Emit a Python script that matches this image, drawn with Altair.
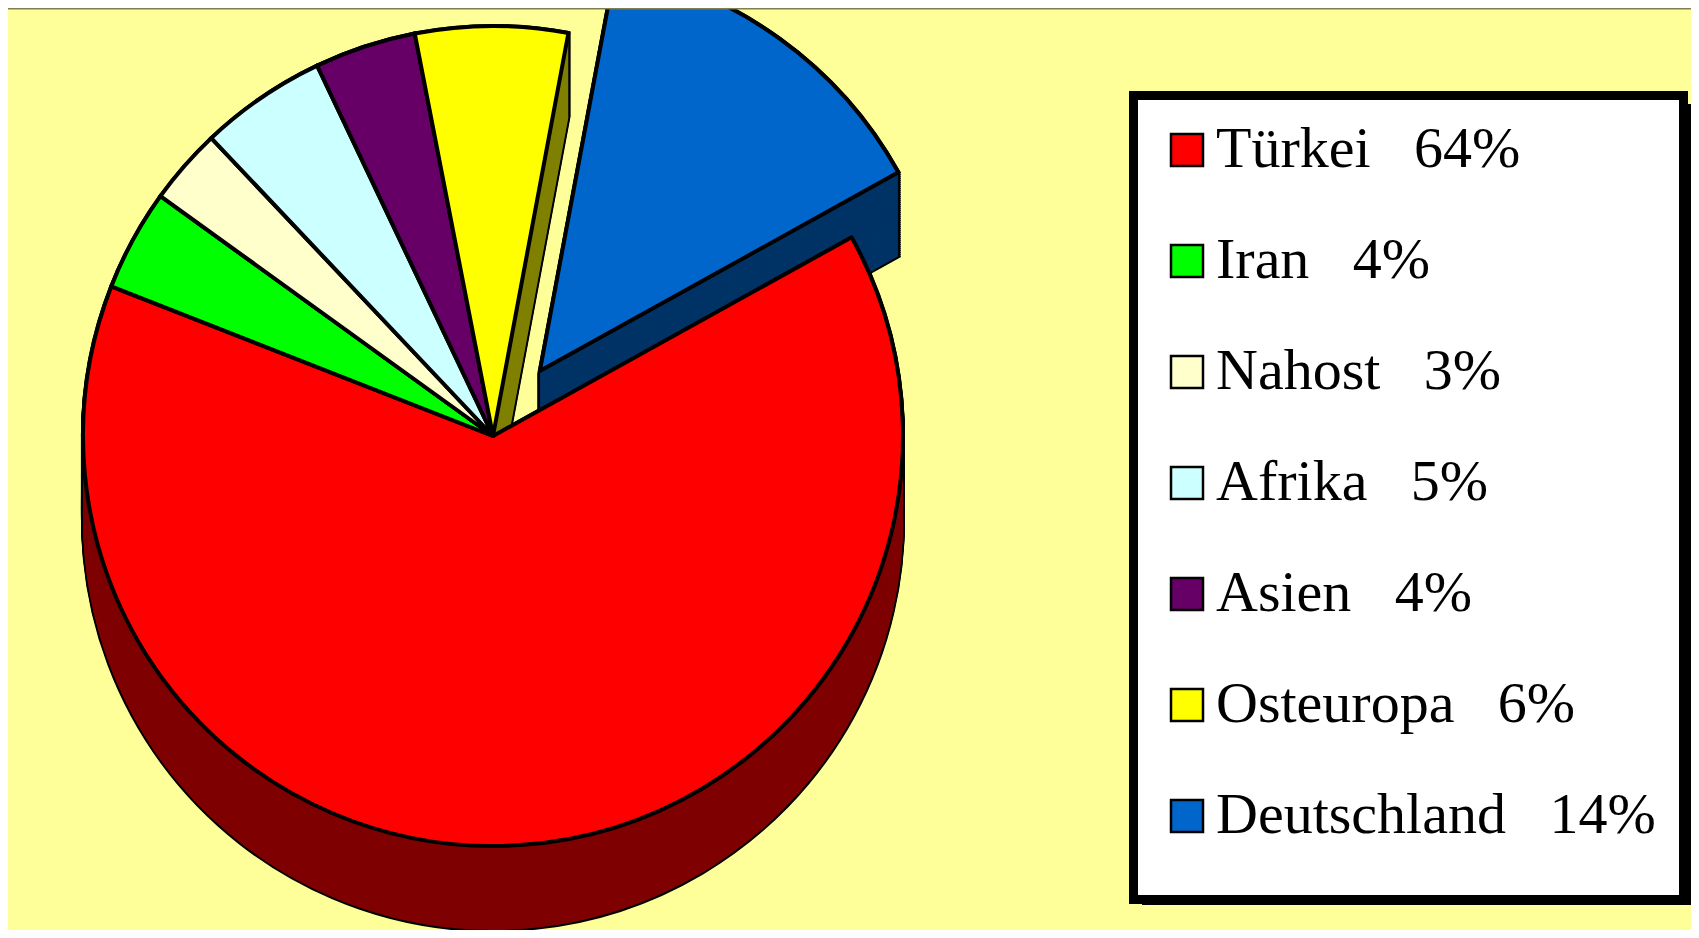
import math
import altair as alt
import pandas as pd

# ---- data ----
laender = ["Türkei", "Iran", "Nahost", "Afrika", "Asien", "Osteuropa", "Deutschland"]
anteile = [64, 4, 3, 5, 4, 6, 14]
herausgezogen = ["Deutschland"]

# ---- styles ----
farben = ["#FF0000", "#00FF00", "#FFFFCC", "#CCFFFF", "#660066", "#FFFF00", "#0066CC"]
seitenfarben = ["#7F0000", "#008000", "#80805F", "#608080", "#330033", "#808000", "#003366"]

NBSP = "\u00a0"
labels = [f"{l}{NBSP * 3}{a}%" for l, a in zip(laender, anteile)]

df = pd.DataFrame({
    "Land": laender,
    "Anteil": anteile,
    "Label": labels,
    "Reihenfolge": list(range(len(laender))),
})

W, H = 1683, 922
CX, CY, R, DEPTH, EXPLODE = 485, 428, 410, 84, 80
A0 = math.radians(61)
TOTAL = sum(anteile)

theta = alt.Theta("start:Q", stack=None,
                  scale=alt.Scale(domain=[0, TOTAL], range=[A0, A0 + 2 * math.pi]))
theta2 = alt.Theta2("end:Q")
xpos = alt.X("px:Q", scale=None, axis=None)
fill_dark = alt.Fill("Land:N", scale=alt.Scale(domain=laender, range=seitenfarben), legend=None)

sweep = (
    alt.Chart()
    .transform_calculate(k=f"sequence({DEPTH}, -1, -2)")
    .transform_flatten(["k"])
    .transform_calculate(pyk="datum.py + datum.k")
)
sweep_stroke = sweep.mark_arc(radius=R, stroke="black", strokeWidth=4).encode(
    theta=theta, theta2=theta2, x=xpos,
    y=alt.Y("pyk:Q", scale=None, axis=None), fill=fill_dark,
)
sweep_fill = sweep.mark_arc(radius=R, strokeWidth=0).encode(
    theta=theta, theta2=theta2, x=xpos,
    y=alt.Y("pyk:Q", scale=None, axis=None), fill=fill_dark,
)

tops = alt.Chart().mark_arc(radius=R, stroke="black", strokeWidth=4, strokeJoin="round").encode(
    theta=theta, theta2=theta2, x=xpos,
    y=alt.Y("py:Q", scale=None, axis=None),
    order=alt.Order("Reihenfolge:Q"),
    color=alt.Color(
        "Label:N",
        scale=alt.Scale(domain=labels, range=farben),
        legend=alt.Legend(
            title=None, orient="none", legendX=1150, legendY=113, zindex=1,
            direction="vertical", padding=0,
            symbolType="square", symbolSize=1024, symbolStrokeColor="black",
            symbolStrokeWidth=2.5, symbolOpacity=1,
            labelFont="Liberation Serif", labelFontSize=58, labelColor="black",
            labelOffset=0, labelLimit=700, rowPadding=53,
        ),
    ),
)

one = alt.Data(values=[{}])
shadow = alt.Chart(one).mark_rect(color="black").encode(
    x=alt.value(1134), x2=alt.value(1684), y=alt.value(96), y2=alt.value(897)
)
box = alt.Chart(one).mark_rect(fill="white", stroke="black", strokeWidth=9).encode(
    x=alt.value(1125.5), x2=alt.value(1675.5), y=alt.value(87.5), y2=alt.value(891.5)
)
topline = alt.Chart(one).mark_rule(color="#7F7F50", strokeWidth=2).encode(
    x=alt.value(0), x2=alt.value(W), y=alt.value(0.5)
)

herausgezogen_js = "[" + ",".join(f"'{h}'" for h in herausgezogen) + "]"

chart = (
    alt.layer(sweep_stroke, sweep_fill, tops, shadow, box, topline, data=df)
    .transform_window(end="sum(Anteil)", sort=[alt.SortField("Reihenfolge")], frame=[None, 0])
    .transform_calculate(start="datum.end - datum.Anteil")
    .transform_calculate(mid=f"{A0} + 2 * PI * (datum.start + datum.end) / 2 / {TOTAL}")
    .transform_calculate(ex=f"indexof({herausgezogen_js}, datum.Land) >= 0 ? {EXPLODE} : 0")
    .transform_calculate(px=f"{CX} + datum.ex * sin(datum.mid)",
                         py=f"{CY} - datum.ex * cos(datum.mid)")
    .properties(width=W, height=H, background="#FFFF99", padding=0,
                autosize=alt.AutoSizeParams(type="none"))
    .configure_view(strokeWidth=0)
)

chart.save("out.html", embed_options={"renderer": "svg", "actions": False})
